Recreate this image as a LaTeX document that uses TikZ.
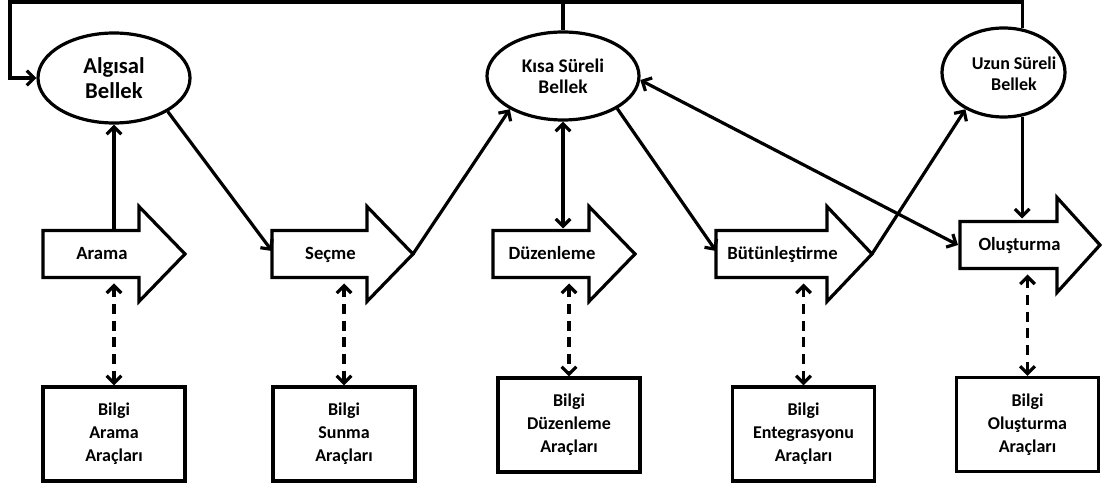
\documentclass[tikz,border=0pt]{standalone}
\usepackage{fontspec}
\setmainfont{Carlito}
\usetikzlibrary{arrows.meta,calc,shapes.geometric}

% block arrow: name, body left, head start, tip, centre y, label
\newcommand\procarrow[6]{%
  \draw (#2,#5-23.5) -- (#3,#5-23.5) -- (#3,#5-47.5) -- (#4,#5)
     -- (#3,#5+47.5) -- (#3,#5+23.5) -- (#2,#5+23.5) -- cycle;
  \node[proclabel] (#1) at ({(#2+#3)/2+11},#5+5.5) {#6};
  \coordinate (#1-n) at (#2,#5-23.5);
  \coordinate (#1-s) at (#2,#5+23.5);
  \coordinate (#1-w) at (#2,#5-3);
  \coordinate (#1-tip) at (#4,#5);
}

\begin{document}
\begin{tikzpicture}[x=0.75pt,y=-0.75pt,
  line width=2.4pt, line join=miter,
  memory/.style={draw, ellipse, inner sep=0pt},
  memtext/.style={font=\fontsize{14.5}{15.75}\selectfont\bfseries, align=center},
  proclabel/.style={anchor=base, inner sep=0pt, font=\fontsize{14}{15}\selectfont\bfseries},
  toolbox/.style={draw, minimum width=106.5pt, minimum height=70.5pt,
    inner sep=0pt, align=center, font=\fontsize{13.5}{17.25}\selectfont\bfseries},
  tip/.style={-{Straight Barb[length=5.5pt,width=11pt]}},
  tipboth/.style={{Straight Barb[length=5.5pt,width=11pt]}-{Straight Barb[length=5.5pt,width=11pt]}},
  toollink/.style={tipboth, dash pattern=on 7.5pt off 5pt, shorten <=4.5pt}
]
\useasboundingbox (0,0) rectangle (1104,484);

% memory stores
\node[memory, minimum width=114pt, minimum height=67.5pt,
      font=\fontsize{17}{18.75}\selectfont\bfseries, align=center]
      (E1) at (114,78) {Algısal\\Bellek};
\node[memory, minimum width=114pt, minimum height=66pt, memtext]
      (E2) at (563,76) {Kısa Süreli\\Bellek};
\node[memory, minimum width=92.25pt, minimum height=66.75pt] (E3) at (1003.5,72.5) {};
\node[memtext, font=\fontsize{13.5}{15.75}\selectfont\bfseries] (E3t) at (1014,74) {Uzun Süreli\\Bellek};

% process steps
\procarrow{arama}{43}{139}{185}{254}{Arama}
\procarrow{secme}{272}{367}{413}{254}{Seçme}
\procarrow{duzen}{493}{589}{635}{254}{Düzenleme}
\procarrow{butun}{716}{827}{872}{254}{Bütünleştirme}
\procarrow{olus}{960}{1057}{1100}{245}{Oluşturma}

% tool boxes
\node[toolbox] (B1) at (114,434) {Bilgi\\Arama\\Araçları};
\node[toolbox] (B2) at (344,434) {Bilgi\\Sunma\\Araçları};
\node[toolbox] (B3) at (569,425) {Bilgi\\Düzenleme\\Araçları};
\node[toolbox] (B4) at (803.5,434) {Bilgi\\Entegrasyonu\\Araçları};
\node[toolbox] (B5) at (1027.5,424.5) {Bilgi\\Oluşturma\\Araçları};

% feedback loop along the top
\coordinate (topline) at (10,2);
\draw[tip] (E3.67) |- (topline) |- (E1.west);
\draw (E2.north) -- (E2.north |- topline);

% flow between stores and steps
\draw[tip] (E1.south |- arama-n) -- (E1.south);
\draw[tip] (E1.-32) -- (secme-w);
\draw[tip] (secme-tip) -- (E2.-148);
\draw[tipboth] (E2.south) -- ($(E2.south |- duzen-n)+(0,-2)$);
\draw[tip] (E2.-31) -- (butun-w);
\draw[tip] (butun-tip) -- (E3.-136);
\draw[tip] (E3.-67) -- ($(E3.-67 |- olus-n)+(0,-3)$);
\draw[tipboth] (E2.-3) -- ($(olus-w)+(-2,3)$);

% links to the tool boxes
\draw[toollink] (B1.north |- arama-s) -- (B1.north);
\draw[toollink] (B2.north |- secme-s) -- (B2.north);
\draw[toollink] (B3.north |- duzen-s) -- (B3.north);
\draw[toollink] (B4.north |- butun-s) -- (B4.north);
\draw[toollink] (B5.north |- olus-s) -- (B5.north);
\end{tikzpicture}
\end{document}
